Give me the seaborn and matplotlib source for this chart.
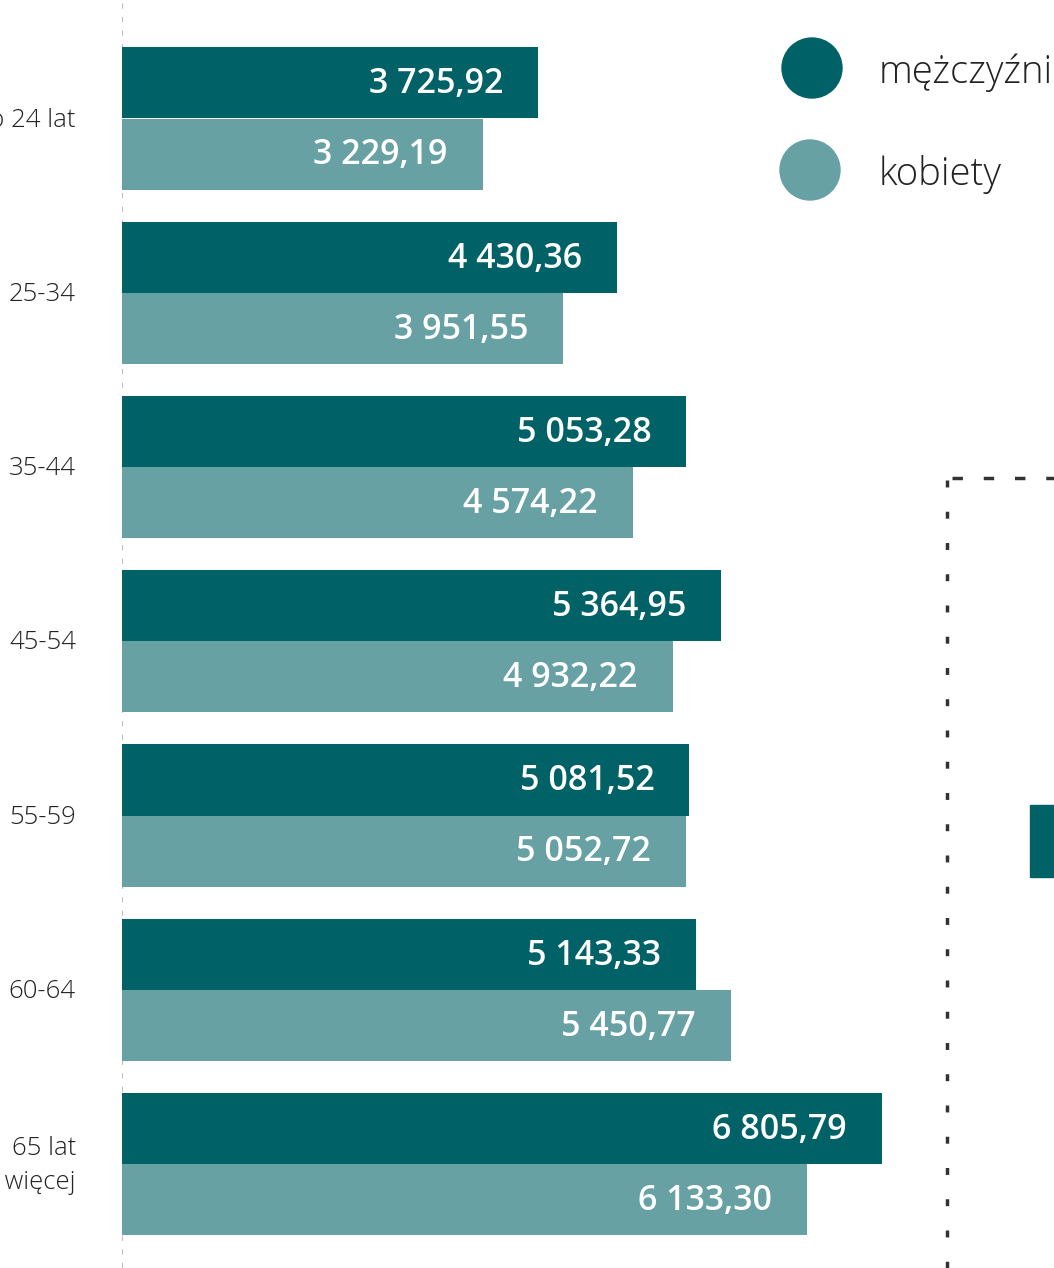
import matplotlib
matplotlib.use("Agg")
import matplotlib.pyplot as plt
import matplotlib.patches as mpatches
from matplotlib.lines import Line2D
import pandas as pd
import seaborn as sns

# Dane
grupy = ["do 24 lat", "25-34", "35-44", "45-54", "55-59", "60-64", "65 lat\ni więcej"]
mezczyzni = [3725.92, 4430.36, 5053.28, 5364.95, 5081.52, 5143.33, 6805.79]
kobiety = [3229.19, 3951.55, 4574.22, 4932.22, 5052.72, 5450.77, 6133.30]
plcie = ["mężczyźni", "kobiety"]
kolory = ["#006166", "#67a1a4"]

df = pd.DataFrame({
    "grupa": grupy * 2,
    "wartosc": mezczyzni + kobiety,
    "plec": [plcie[0]] * len(grupy) + [plcie[1]] * len(grupy),
})

sns.set_theme(style="white")
plt.rcParams["font.family"] = ["Open Sans", "DejaVu Sans"]

W, H = 1054, 1268
fig = plt.figure(figsize=(W / 100, H / 100), dpi=100)
ax = fig.add_axes([122 / W, 0, (W - 122) / W, 1])

sns.barplot(data=df, y="grupa", x="wartosc", hue="plec", order=grupy,
            hue_order=plcie, palette=kolory, width=0.815, orient="h",
            saturation=1, legend=False, linewidth=0, ax=ax)

px_per_unit = (882 - 122) / 6805.79
ax.set_xlim(0, (W - 122) / px_per_unit)
ax.set_ylim((H - 118.5) / 174.25, -118.5 / 174.25)

for s in ax.spines.values():
    s.set_visible(False)
ax.set_xticks([])
ax.set_yticks([])
ax.set_xlabel("")
ax.set_ylabel("")

# linia zerowa
ax.axvline(0, color="#bdbdbd", lw=1.5, ls=(0, (2.5, 4)), zorder=0)

# etykiety wartości
pad = 35 / px_per_unit
for cont in ax.containers:
    for bar in cont:
        v = bar.get_width()
        txt = f"{v:,.2f}".replace(",", " ").replace(".", ",")
        ax.text(v - pad, bar.get_y() + bar.get_height() / 2 - 0.015, txt,
                ha="right", va="center_baseline", color="white",
                fontsize=24.5, fontweight="semibold")

# etykiety kategorii
for i, g in enumerate(grupy):
    ax.text(-46 / px_per_unit, i + 0.01, g, ha="right", va="center",
            fontsize=18.5, fontweight="light", color="#222222",
            linespacing=1.45, clip_on=False)

# legenda
for (cy, cx), lab, col in zip([(68, 812), (170, 810)], plcie, kolory):
    fig.patches.append(mpatches.Ellipse((cx / W, 1 - cy / H), 60 / W, 60 / H,
                                        transform=fig.transFigure, color=col))
    fig.text(879 / W, 1 - cy / H, lab, ha="left", va="center_baseline",
             fontsize=27.5, fontweight="light", color="#222222")

# ramka sąsiedniego wykresu
fig.add_artist(Line2D([947 / W, 947 / W], [1 - 480 / H, 0], transform=fig.transFigure,
                      color="#333333", lw=2.5, ls=(0, (2, 7))))
fig.add_artist(Line2D([952 / W, 1], [1 - 478 / H, 1 - 478 / H], transform=fig.transFigure,
                      color="#333333", lw=2.5, ls=(0, (3, 6))))
fig.patches.append(mpatches.Rectangle((1030 / W, 1 - 877 / H), 30 / W, 72 / H,
                                      transform=fig.transFigure, color=kolory[0]))

fig.savefig("out.png", dpi=100)
